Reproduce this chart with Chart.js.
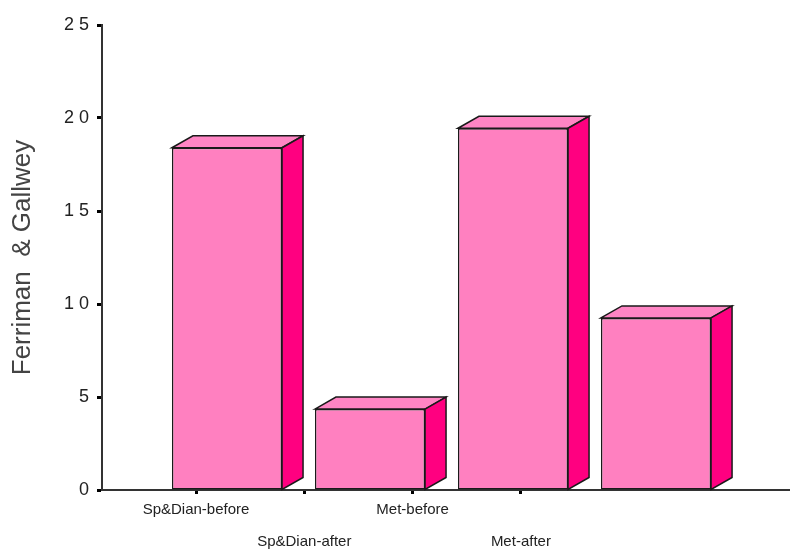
<!DOCTYPE html>
<html>
<head>
<meta charset="utf-8">
<script src="https://cdn.jsdelivr.net/npm/chart.js@4/dist/chart.umd.min.js"></script>
<style>
  html, body { margin: 0; padding: 0; background: #fff; }
  #wrap { width: 790px; height: 550px; }
</style>
</head>
<body>
<div id="wrap"><canvas id="c" width="790" height="550"></canvas></div>
<script>
/* ===== Ferriman & Gallwey score, before / after ===== */

const categories = ['Sp&Dian-before', 'Sp&Dian-after', 'Met-before', 'Met-after'];
const scores     = [18.4, 4.35, 19.45, 9.25];
const yTicks     = [0, 5, 10, 15, 20, 25];

const FRONT = '#ff80c0';
const SIDE  = '#ff0080';
const TOP   = '#ff85c4';

// draws the top and right faces of each bar (3D look)
const box3d = {
  id: 'box3d',
  afterDatasetsDraw(chart) {
    const ctx = chart.ctx;
    const dx = 21, dy = 12;
    chart.getDatasetMeta(0).data.forEach(bar => {
      const l = bar.x - bar.width / 2, r = bar.x + bar.width / 2;
      const t = bar.y, b = bar.base;
      ctx.save();
      ctx.lineWidth = 1.5;
      ctx.strokeStyle = '#1a1a1a';
      ctx.lineJoin = 'miter';
      // top
      ctx.beginPath();
      ctx.moveTo(l, t); ctx.lineTo(l + dx, t - dy); ctx.lineTo(r + dx, t - dy); ctx.lineTo(r, t);
      ctx.closePath();
      ctx.fillStyle = TOP; ctx.fill(); ctx.stroke();
      // side
      ctx.beginPath();
      ctx.moveTo(r, t); ctx.lineTo(r + dx, t - dy); ctx.lineTo(r + dx, b - dy); ctx.lineTo(r, b);
      ctx.closePath();
      ctx.fillStyle = SIDE; ctx.fill(); ctx.stroke();
      ctx.restore();
    });
  }
};

const ctx = document.getElementById('c').getContext('2d');
new Chart(ctx, {
  type: 'bar',
  data: {
    datasets: [{
      data: categories.map((c, i) => ({ x: i, y: scores[i] })),
      backgroundColor: FRONT,
      borderColor: '#1a1a1a',
      borderWidth: 1.5,
      borderSkipped: false,
      categoryPercentage: 1,
      barPercentage: 0.77,
      xAxisID: 'x',
      yAxisID: 'y'
    }]
  },
  options: {
    responsive: false,
    animation: false,
    layout: { padding: { top: 25, right: 0, left: 0, bottom: 0 } },
    plugins: { legend: { display: false }, tooltip: { enabled: false }, title: { display: false } },
    scales: {
      x: {
        type: 'linear',
        display: false,
        offset: false,
        grid: { offset: false },
        min: -0.874,
        max: 3.937,
        afterBuildTicks: s => { s.ticks = categories.map((c, i) => ({ value: i })); }
      },
      xl: {
        type: 'linear',
        position: 'bottom',
        offset: false,
        min: 0.132,
        max: 6.485,
        afterFit: s => { s.height = 60; },
        afterBuildTicks: s => { s.ticks = categories.map((c, i) => ({ value: i + 1 })); },
        border: { display: true, color: '#333', width: 2 },
        grid: { offset: false, drawOnChartArea: false, drawTicks: true, tickLength: 4, tickWidth: 3, tickColor: '#000' },
        ticks: {
          autoSkip: false,
          maxRotation: 0,
          padding: 0,
          color: '#222',
          font: { family: '"Liberation Sans", Arial, sans-serif', size: 15, lineHeight: '32px' },
          callback: v => (v % 2 === 0 ? ['', categories[v - 1]] : categories[v - 1])
        }
      },
      y: {
        min: 0,
        max: 25,
        afterFit: s => { s.width = 102; },
        afterBuildTicks: s => { s.ticks = yTicks.map(v => ({ value: v })); },
        border: { display: true, color: '#333', width: 2 },
        grid: { drawOnChartArea: false, drawTicks: true, tickLength: 5, tickWidth: 3, tickColor: '#000' },
        ticks: {
          padding: 8,
          color: '#222',
          font: { family: '"Liberation Sans", Arial, sans-serif', size: 18 },
          callback: v => String(v).split('').join(' ')
        },
        title: {
          display: true,
          text: 'Ferriman  & Gallwey',
          color: '#444',
          padding: { top: 7, bottom: 0 },
          font: { family: '"Liberation Sans", Arial, sans-serif', size: 26 }
        }
      }
    }
  },
  plugins: [box3d]
});
</script>
</body>
</html>
